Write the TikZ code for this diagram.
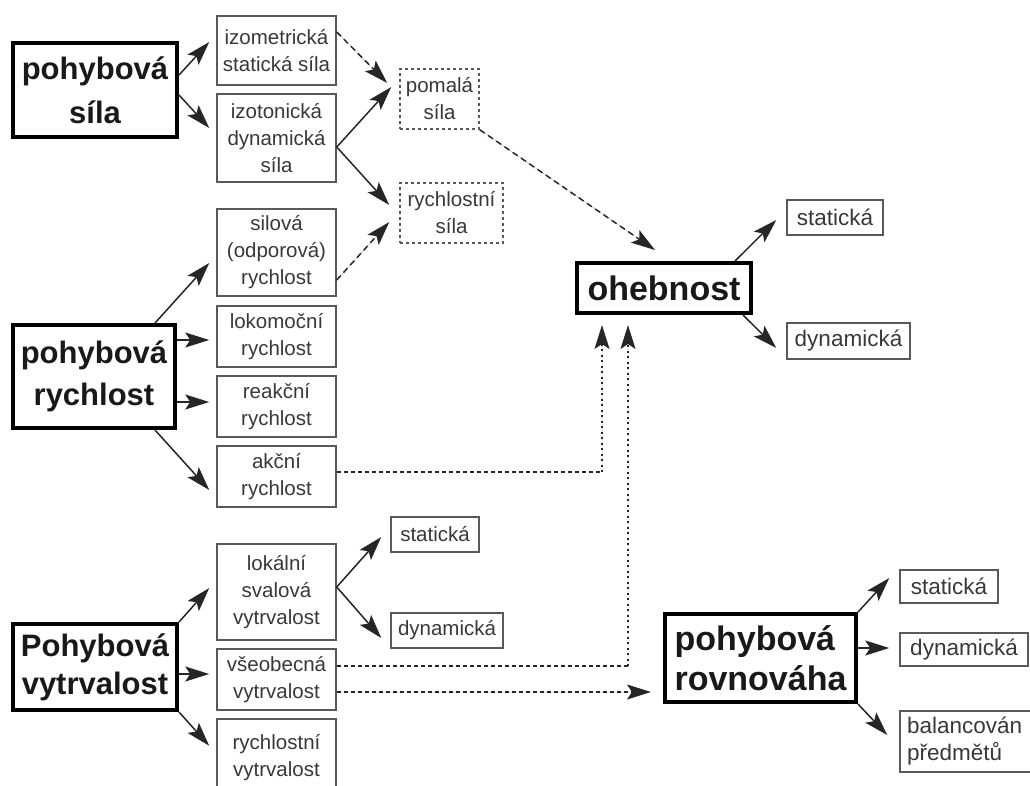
\documentclass[tikz,border=0pt]{standalone}
\usepackage{fontspec}
\setmainfont{Liberation Sans}
\usetikzlibrary{arrows.meta}
\tikzset{
 bigbox/.style={draw=black, line width=4pt, inner sep=0pt, align=center, text=black!90, font=\bfseries\fontsize{31}{40}\selectfont},
 sbox/.style={draw=black!65, line width=1.5pt, inner sep=0pt, align=center, text=black!78, font=\fontsize{20.5}{27}\selectfont},
 dbox/.style={sbox, dash pattern=on 3pt off 3pt},
 rbox/.style={sbox, font=\fontsize{22.5}{27}\selectfont},
 arr/.style={-{Stealth[length=24pt,width=15pt,inset=5pt]}, line width=1.5pt, draw=black!85, fill=black!85},
 darr/.style={arr, dash pattern=on 6pt off 4pt},
 dline/.style={line width=1.4pt, draw=black!85, dash pattern=on 4pt off 3pt},
 vline/.style={arr, line width=1.6pt, dash pattern=on 2pt off 3.5pt}
}
\begin{document}
\begin{tikzpicture}[x=1pt,y=-1pt]
\useasboundingbox (0,0) rectangle (1030,785);
% big boxes
\node[bigbox, minimum width=164, minimum height=94, font=\bfseries\fontsize{31}{44}\selectfont] (sila) at (95,90) {pohybová\\síla};
\node[bigbox, minimum width=162, minimum height=103, font=\bfseries\fontsize{31}{42}\selectfont] (rychl) at (94,376.5) {pohybová\\rychlost};
\node[bigbox, minimum width=164, minimum height=86, font=\bfseries\fontsize{31}{38}\selectfont] (vytr) at (95,667) {Pohybová\\vytrvalost};
\node[bigbox, minimum width=174, minimum height=50, font=\bfseries\fontsize{34}{40}\selectfont] (oheb) at (664,288) {ohebnost};
\node[bigbox, minimum width=191, minimum height=88, align=left, font=\bfseries\fontsize{34}{40}\selectfont] (rovn) at (760.5,658) {pohybová\\rovnováha};
% small boxes
\node[sbox, minimum width=119, minimum height=69] (izom) at (276.5,50.5) {izometrická\\statická síla};
\node[sbox, minimum width=119, minimum height=88] (izot) at (276.5,138) {izotonická\\dynamická\\síla};
\node[dbox, minimum width=79, minimum height=60] (pomala) at (439.5,99) {pomalá\\síla};
\node[dbox, minimum width=103, minimum height=60] (rsila) at (451.5,213) {rychlostní\\síla};
\node[sbox, minimum width=119, minimum height=87] (silova) at (276.5,252.5) {silová\\(odporová)\\rychlost};
\node[sbox, minimum width=119, minimum height=61] (lokom) at (276.5,336.5) {lokomoční\\rychlost};
\node[sbox, minimum width=119, minimum height=61] (reakc) at (276.5,406.5) {reakční\\rychlost};
\node[sbox, minimum width=119, minimum height=61] (akcni) at (276.5,476.5) {akční\\rychlost};
\node[sbox, minimum width=119, minimum height=96] (lokal) at (276.5,592) {lokální\\svalová\\vytrvalost};
\node[sbox, minimum width=119, minimum height=61] (vseob) at (276.5,679.5) {všeobecná\\vytrvalost};
\node[sbox, minimum width=119, minimum height=72, anchor=north] (rvytr) at (276.5,718) {\rule{0pt}{21pt}rychlostní\\vytrvalost};
\node[sbox, minimum width=88, minimum height=35] (stat1) at (435,534.5) {statická};
\node[sbox, minimum width=112, minimum height=35] (dyn1) at (447,630.5) {dynamická};
\node[rbox, minimum width=96, minimum height=35] (stat2) at (835,217.5) {statická};
\node[rbox, minimum width=123, minimum height=36] (dyn2) at (848.5,341) {dynamická};
\node[rbox, minimum width=98, minimum height=33] (stat3) at (949,586.5) {statická};
\node[rbox, minimum width=128, minimum height=33] (dyn3) at (964,649.5) {dynamická};
\node[rbox, minimum height=61, text width=126, inner xsep=7pt, align=left] (bal) at (970,741.5) {balancován\\předmětů};
% arrows
\draw[arr] ([yshift=15pt]sila.east) -- ([xshift=-7pt,yshift=8.5pt]izom.west);
\draw[arr] ([yshift=-5pt]sila.east) -- ([xshift=-7pt,yshift=10pt]izot.west);
\draw[darr] ([yshift=18.5pt]izom.east) -- ([xshift=-12pt,yshift=16pt]pomala.west);
\draw[arr] ([yshift=-9pt]izot.east) -- ([xshift=-8pt,yshift=12pt]pomala.west);
\draw[arr] ([yshift=-9pt]izot.east) -- ([xshift=-10pt,yshift=8pt]rsila.west);
\draw[darr] ([yshift=-27.5pt]silova.east) -- ([xshift=-10pt,yshift=-9pt]rsila.west);
\draw[darr] (pomala.south east) -- ([xshift=-9pt,yshift=11pt]oheb.north);
\draw[arr] ([xshift=61pt]rychl.north) -- ([xshift=-7pt,yshift=-10.5pt]silova.west);
\draw[arr] ([yshift=36.5pt]rychl.east) -- ([xshift=-7pt,yshift=-3.5pt]lokom.west);
\draw[arr] ([yshift=-25.5pt]rychl.east) -- ([xshift=-7pt,yshift=4.5pt]reakc.west);
\draw[arr] ([xshift=61pt]rychl.south) -- ([xshift=-7pt,yshift=-13.5pt]akcni.west);
\coordinate (a1) at ([yshift=4.5pt]akcni.east);
\coordinate (t1) at ([xshift=-62pt,yshift=-10pt]oheb.south);
\coordinate (c1) at (a1 -| t1);
\draw[dline] (a1) -- (c1);
\draw[vline] (c1) -- (t1);
\draw[arr] (vytr.north east) -- ([xshift=-7pt,yshift=4pt]lokal.west);
\draw[arr] ([yshift=-7pt]vytr.east) -- ([xshift=-7pt,yshift=5.5pt]vseob.west);
\draw[arr] (vytr.south east) -- ([xshift=-7pt,yshift=9pt]rvytr.west);
\draw[arr] ([yshift=5pt]lokal.east) -- ([xshift=-9pt,yshift=-2.5pt]stat1.west);
\draw[arr] ([yshift=5pt]lokal.east) -- ([xshift=-9pt,yshift=-7.5pt]dyn1.west);
\coordinate (a2) at ([yshift=13.5pt]vseob.east);
\coordinate (t2) at ([xshift=-36pt,yshift=-10pt]oheb.south);
\coordinate (c2) at (a2 -| t2);
\draw[dline] (a2) -- (c2);
\draw[vline] (c2) -- (t2);
\draw[darr, dash pattern=on 4pt off 3pt] ([yshift=-12.5pt]vseob.east) -- ([xshift=-12pt,yshift=-34pt]rovn.west);
\draw[arr] ([xshift=71pt]oheb.north) -- ([xshift=-10pt,yshift=-2.5pt]stat2.west);
\draw[arr] ([xshift=79pt]oheb.south) -- ([xshift=-10pt,yshift=-7pt]dyn2.west);
\draw[arr] (rovn.north east) -- ([xshift=-10pt,yshift=8.5pt]stat3.west);
\draw[arr] ([yshift=10pt]rovn.east) -- ([xshift=-10pt,yshift=1.5pt]dyn3.west);
\draw[arr] (rovn.south east) -- ([xshift=-12pt,yshift=6.5pt]bal.west);
\end{tikzpicture}
\end{document}
